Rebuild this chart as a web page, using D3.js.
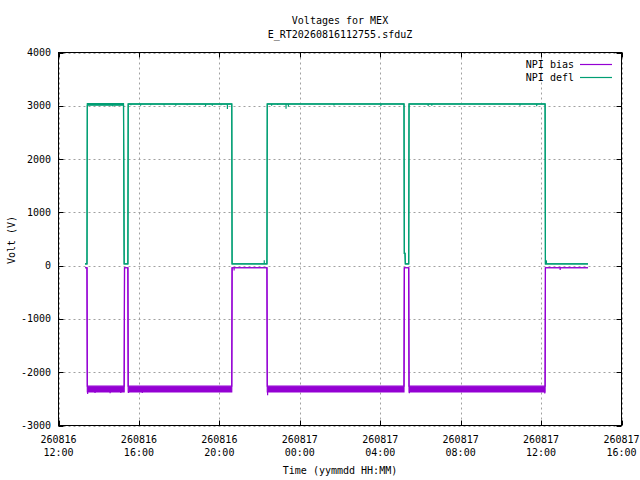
<!DOCTYPE html>
<html>
<head>
<meta charset="utf-8">
<script src="https://cdn.jsdelivr.net/npm/d3@7"></script>
<style>
  html, body { margin: 0; padding: 0; background: #fff; }
  text { font-family: "DejaVu Sans Mono", "Liberation Mono", monospace; font-size: 10px; fill: #000; }
</style>
</head>
<body>
<svg id="chart" width="640" height="480"></svg>
<script>
// ---- data ----
const titleLines = ["Voltages for MEX", "E_RT20260816112755.sfduZ"];
const yLabel = "Volt (V)";
const xLabel = "Time (yymmdd HH:MM)";
const seriesNames = ["NPI bias", "NPI defl"];

const xDomain = ["2026-08-16 12:00", "2026-08-17 16:00"];
const xTickTimes = ["2026-08-16 12:00", "2026-08-16 16:00", "2026-08-16 20:00", "2026-08-17 00:00",
                    "2026-08-17 04:00", "2026-08-17 08:00", "2026-08-17 12:00", "2026-08-17 16:00"];
const xTickDates = ["260816", "260816", "260816", "260817", "260817", "260817", "260817", "260817"];
const xTickHours = ["12:00", "16:00", "20:00", "00:00", "04:00", "08:00", "12:00", "16:00"];
const yTicks = [-3000, -2000, -1000, 0, 1000, 2000, 3000, 4000];

// NPI defl: upper / lower envelope of the samples
const deflTime = ["2026-08-16 13:19", "2026-08-16 13:25", "2026-08-16 13:26", "2026-08-16 15:14",
                  "2026-08-16 15:16", "2026-08-16 15:27", "2026-08-16 15:28", "2026-08-16 20:37",
                  "2026-08-16 20:38", "2026-08-16 22:22", "2026-08-16 22:23", "2026-08-17 05:11",
                  "2026-08-17 05:12", "2026-08-17 05:14", "2026-08-17 05:15", "2026-08-17 05:25",
                  "2026-08-17 05:26", "2026-08-17 12:12", "2026-08-17 12:13", "2026-08-17 14:20"];
const deflHigh = [35, 35, 3040, 3040, 35, 35, 3037, 3037, 35, 35, 3037, 3037, 230, 230, 35, 35, 3037, 3037, 35, 35];
const deflLow  = [35, 35, 3010, 3010, 35, 35, 3030, 3030, 35, 35, 3032, 3032, 230, 230, 35, 35, 3032, 3032, 35, 35];
// NPI defl: isolated excursions
const deflSpikeTime = ["2026-08-16 14:41", "2026-08-16 15:36", "2026-08-16 16:05", "2026-08-16 16:35",
                       "2026-08-16 17:15", "2026-08-16 17:50", "2026-08-16 18:24", "2026-08-16 19:19",
                       "2026-08-16 19:39", "2026-08-16 20:05", "2026-08-16 20:24", "2026-08-16 22:14",
                       "2026-08-16 22:36", "2026-08-16 22:54", "2026-08-16 23:19", "2026-08-16 23:26",
                       "2026-08-17 01:42", "2026-08-17 04:02", "2026-08-17 06:23", "2026-08-17 06:34",
                       "2026-08-17 10:57", "2026-08-17 11:47", "2026-08-17 12:16"];
const deflSpikeValue = [2990, 3010, 3000, 3010, 3005, 3000, 3010, 2985, 3000, 3010, 2940, 100,
                        3000, 3015, 2945, 2980, 3005, 2995, 2995, 3000, 3000, 2990, 100];

// NPI bias: upper / lower envelope of the samples
const biasTime = ["2026-08-16 13:19", "2026-08-16 13:25", "2026-08-16 13:26", "2026-08-16 15:16",
                  "2026-08-16 15:17", "2026-08-16 15:27", "2026-08-16 15:28", "2026-08-16 20:37",
                  "2026-08-16 20:38", "2026-08-16 22:22", "2026-08-16 22:23", "2026-08-17 05:11",
                  "2026-08-17 05:12", "2026-08-17 05:25", "2026-08-17 05:26", "2026-08-17 12:12",
                  "2026-08-17 12:13", "2026-08-17 14:20"];
const biasHigh = [-40, -40, -2262, -2262, -40, -40, -2262, -2262, -40, -40, -2262, -2262, -40, -40, -2262, -2262, -40, -40];
const biasLow  = [-40, -40, -2370, -2370, -40, -40, -2370, -2370, -40, -40, -2370, -2370, -40, -40, -2370, -2370, -40, -40];
// NPI bias: isolated excursions
const biasSpikeTime = ["2026-08-16 13:27", "2026-08-16 13:49", "2026-08-16 14:34", "2026-08-16 15:06",
                       "2026-08-16 15:29", "2026-08-16 16:10", "2026-08-16 20:44", "2026-08-16 22:24",
                       "2026-08-17 05:27", "2026-08-17 12:11", "2026-08-17 12:57"];
const biasSpikeValue = [-2410, -2390, -2395, -2390, -2390, -2390, -90, -2430, -2395, -2400, -80];

// ---- drawing ----
const colors = ["#9400d3", "#009e73"];
const parse = d3.timeParse("%Y-%m-%d %H:%M");
const svg = d3.select("#chart");
const L = 58.5, R = 621.5, T = 52.5, B = 425.5;

const x = d3.scaleTime().domain(xDomain.map(parse)).range([L, R]);
const y = d3.scaleLinear().domain([-3000, 4000]).range([B, T]);

// grid
const grid = svg.append("g").attr("stroke", "#a0a0a0").attr("stroke-width", 1).attr("stroke-dasharray", "2,3");
yTicks.forEach(v => {
  grid.append("line").attr("x1", L).attr("x2", R).attr("y1", Math.round(y(v)) + 0.5).attr("y2", Math.round(y(v)) + 0.5);
});
xTickTimes.forEach(t => {
  const px = Math.round(x(parse(t))) + 0.5;
  grid.append("line").attr("x1", px).attr("x2", px).attr("y1", T).attr("y2", B);
});

function drawSeries(times, hi, lo, spikeT, spikeV, color) {
  const pts = times.map((t, i) => ({ t: parse(t), hi: hi[i], lo: lo[i] }));
  const g = svg.append("g");
  g.append("path").datum(pts)
    .attr("d", d3.area().x(d => x(d.t)).y0(d => y(d.lo)).y1(d => y(d.hi)))
    .attr("fill", color);
  ["hi", "lo"].forEach(k => {
    g.append("path").datum(pts)
      .attr("d", d3.line().x(d => x(d.t)).y(d => y(d[k])))
      .attr("fill", "none").attr("stroke", color).attr("stroke-width", 1.2);
  });
  const tt = pts.map(p => p.t);
  spikeT.forEach((s, i) => {
    const ts = parse(s);
    const idx = Math.max(0, d3.bisectRight(tt, ts) - 1);
    const base = spikeV[i] > pts[idx].hi ? pts[idx].hi : (spikeV[i] < pts[idx].lo ? pts[idx].lo : pts[idx].hi);
    g.append("line")
      .attr("x1", x(ts)).attr("x2", x(ts))
      .attr("y1", y(base)).attr("y2", y(spikeV[i]))
      .attr("stroke", color).attr("stroke-width", 1.2);
  });
}
drawSeries(biasTime, biasHigh, biasLow, biasSpikeTime, biasSpikeValue, colors[0]);
drawSeries(deflTime, deflHigh, deflLow, deflSpikeTime, deflSpikeValue, colors[1]);

// border and ticks
const ax = svg.append("g").attr("stroke", "#000").attr("stroke-width", 1);
ax.append("rect").attr("x", L).attr("y", T).attr("width", R - L).attr("height", B - T).attr("fill", "none");
yTicks.forEach(v => {
  const py = Math.round(y(v)) + 0.5;
  ax.append("line").attr("x1", L).attr("x2", L + 5).attr("y1", py).attr("y2", py);
  ax.append("line").attr("x1", R - 5).attr("x2", R).attr("y1", py).attr("y2", py);
});
xTickTimes.forEach(t => {
  const px = Math.round(x(parse(t))) + 0.5;
  ax.append("line").attr("x1", px).attr("x2", px).attr("y1", B).attr("y2", B - 5);
  ax.append("line").attr("x1", px).attr("x2", px).attr("y1", T).attr("y2", T + 5);
});

// tick labels
yTicks.forEach(v => {
  svg.append("text").attr("x", 51).attr("y", y(v) + 3.5).attr("text-anchor", "end").text(v);
});
xTickTimes.forEach((t, i) => {
  const px = x(parse(t));
  svg.append("text").attr("x", px).attr("y", 443).attr("text-anchor", "middle").text(xTickDates[i]);
  svg.append("text").attr("x", px).attr("y", 456).attr("text-anchor", "middle").text(xTickHours[i]);
});

// titles
const cx = (L + R) / 2;
svg.append("text").attr("x", cx).attr("y", 24).attr("text-anchor", "middle").text(titleLines[0]);
svg.append("text").attr("x", cx).attr("y", 38).attr("text-anchor", "middle").text(titleLines[1]);
svg.append("text").attr("x", cx).attr("y", 474).attr("text-anchor", "middle").text(xLabel);
svg.append("text").attr("transform", "translate(15,240) rotate(-90)").attr("text-anchor", "middle").text(yLabel);

// legend
seriesNames.forEach((n, i) => {
  const ly = 64 + i * 13;
  svg.append("text").attr("x", 574).attr("y", ly + 3.5).attr("text-anchor", "end").text(n);
  svg.append("line").attr("x1", 580).attr("x2", 612).attr("y1", ly + 0.5).attr("y2", ly + 0.5)
    .attr("stroke", colors[i]).attr("stroke-width", 1.2);
});
</script>
</body>
</html>
